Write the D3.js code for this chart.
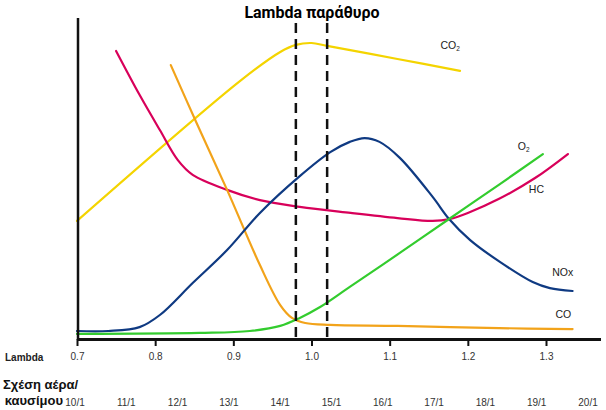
<!DOCTYPE html>
<html>
<head>
<meta charset="utf-8">
<script src="https://cdn.jsdelivr.net/npm/d3@7"></script>
<style>
  body { margin: 0; background: #fff; }
  svg { display: block; font-family: "Liberation Sans", Arial, sans-serif; }
</style>
</head>
<body>
<div id="canvas"></div>
<script>
"use strict"

/* ---------- data ---------- */
let lambdaTicks = [0.7, 0.8, 0.9, 1.0, 1.1, 1.2, 1.3];
let ratioTicks = [10, 11, 12, 13, 14, 15, 16, 17, 18, 19, 20];
let lambdaWindow = [0.98, 1.02];

// CO2
let co2Lambda = [0.70, 0.91, 0.96, 0.98, 1.00, 1.02, 1.11, 1.19];
let co2Value  = [36.9, 80.9, 89.7, 91.9, 92.5, 91.6, 87.5, 83.8];
// HC
let hcLambda = [0.75, 0.78, 0.806, 0.829, 0.848, 0.892, 0.934, 0.985, 1.05, 1.11, 1.155, 1.177, 1.20, 1.24, 1.286, 1.328];
let hcValue  = [90.0, 76.3, 65.3, 55.9, 51.3, 46.6, 43.4, 41.3, 39.4, 37.8, 36.9, 37.5, 39.4, 43.8, 50.3, 57.8];
// CO
let coLambda = [0.82, 0.853, 0.892, 0.934, 0.96, 0.975, 0.992, 1.024, 1.11, 1.24, 1.334];
let coValue  = [85.6, 67.5, 46.6, 23.1, 10.6, 6.6, 5.0, 4.4, 4.1, 3.4, 3.1];
// NOx
let noxLambda = [0.70, 0.74, 0.78, 0.806, 0.848, 0.892, 0.934, 0.985, 1.024, 1.049, 1.068, 1.087, 1.113, 1.155, 1.176, 1.203, 1.241, 1.283, 1.305, 1.334];
let noxValue  = [2.5, 2.5, 3.7, 7.5, 17.5, 27.8, 39.4, 50.9, 58.4, 61.6, 62.8, 61.6, 56.6, 44.4, 37.5, 30.9, 24.1, 17.8, 15.9, 15.0];
// O2
let o2Lambda = [0.70, 0.857, 0.921, 0.96, 0.985, 1.011, 1.049, 1.113, 1.176, 1.241, 1.296];
let o2Value  = [1.6, 1.9, 2.5, 4.1, 6.6, 10.0, 16.3, 26.9, 37.5, 48.4, 57.8];

/* ---------- canvas ---------- */
let drawing = d3.select("#canvas")
    .append("svg")
    .attr("width", 606)
    .attr("height", 410);

let x = d3.scaleLinear().domain([0.7, 1.3]).range([77, 546]);
let y = d3.scaleLinear().domain([0, 100]).range([339, 19]);
let xRatio = d3.scaleLinear().domain([10, 20]).range([75, 588]);

/* title */
drawing.append("text")
  .attr("x", 312).attr("y", 18)
  .attr("text-anchor", "middle")
  .style("font-family", "Roboto, sans-serif")
  .style("font-weight", "bold")
  .style("font-size", "16px")
  .text("Lambda παράθυρο");

/* curves */
let line = d3.line()
  .x(d => x(d[0]))
  .y(d => y(d[1]))
  .curve(d3.curveCatmullRom.alpha(0.5));

let series = [
  { lam: co2Lambda, val: co2Value, color: "#f4d400" },
  { lam: hcLambda,  val: hcValue,  color: "#d8005a" },
  { lam: coLambda,  val: coValue,  color: "#f2a31a" },
  { lam: noxLambda, val: noxValue, color: "#0f3a82" },
  { lam: o2Lambda,  val: o2Value,  color: "#33cc2e" }
];

series.forEach(s => {
  drawing.append("path")
    .datum(d3.zip(s.lam, s.val))
    .attr("d", line)
    .attr("fill", "none")
    .attr("stroke", s.color)
    .attr("stroke-width", 2.2)
    .attr("stroke-linecap", "round");
});

/* lambda window dashed lines */
drawing.selectAll(".window")
  .data(lambdaWindow)
  .enter().append("line")
  .attr("x1", d => x(d)).attr("x2", d => x(d))
  .attr("y1", 23).attr("y2", 338)
  .attr("stroke", "#111")
  .attr("stroke-width", 2.5)
  .attr("stroke-dasharray", "10,6");

/* axes */
drawing.append("line")   // y axis
  .attr("x1", 78).attr("y1", 18)
  .attr("x2", 78).attr("y2", 340)
  .attr("stroke", "#111").attr("stroke-width", 2.5);

drawing.append("line")   // x axis
  .attr("x1", 77).attr("y1", 339.5)
  .attr("x2", 601).attr("y2", 339.5)
  .attr("stroke", "#111").attr("stroke-width", 3);

let xAxis = d3.axisBottom(x)
  .tickValues(lambdaTicks)
  .tickSize(7)
  .tickPadding(7)
  .tickFormat(d3.format(".1f"));

let gx = drawing.append("g")
  .attr("transform", "translate(0,339)")
  .call(xAxis);
gx.select(".domain").remove();
gx.selectAll(".tick line").attr("stroke", "#111").attr("stroke-width", 2);
gx.selectAll(".tick text")
  .style("font-size", "10px")
  .style("font-family", "Liberation Sans, Arial, sans-serif")
  .attr("fill", "#333");

drawing.append("text")
  .attr("x", 5).attr("y", 361)
  .style("font-size", "10px")
  .style("font-weight", "bold")
  .attr("fill", "#222")
  .text("Lambda");

/* air-fuel ratio row */
drawing.selectAll(".ratio")
  .data(ratioTicks)
  .enter().append("text")
  .attr("x", d => xRatio(d))
  .attr("y", 406)
  .attr("text-anchor", "middle")
  .style("font-size", "10px")
  .attr("fill", "#333")
  .text(d => d + "/1");

drawing.append("text")
  .attr("x", 3).attr("y", 389)
  .style("font-size", "13px")
  .style("font-weight", "bold")
  .attr("fill", "#111")
  .text("Σχέση αέρα/");

drawing.append("text")
  .attr("x", 63).attr("y", 405)
  .attr("text-anchor", "end")
  .style("font-size", "13px")
  .style("font-weight", "bold")
  .attr("fill", "#111")
  .text("καυσίμου");

/* series labels */
let labelStyle = sel => sel.style("font-size", "10.5px").attr("fill", "#222");

drawing.append("text").attr("x", x(1.165)).attr("y", y(90.5)).call(labelStyle)
  .text("CO").append("tspan").attr("dy", 2).style("font-size", "6.5px").text("2");
drawing.append("text").attr("x", x(1.264)).attr("y", y(59)).call(labelStyle)
  .text("O").append("tspan").attr("dy", 2).style("font-size", "6.5px").text("2");
drawing.append("text").attr("x", x(1.278)).attr("y", y(45.5)).call(labelStyle).text("HC");
drawing.append("text").attr("x", x(1.308)).attr("y", y(19.8)).call(labelStyle).text("NOx");
drawing.append("text").attr("x", x(1.312)).attr("y", y(6.5)).call(labelStyle).text("CO");
</script>
</body>
</html>
